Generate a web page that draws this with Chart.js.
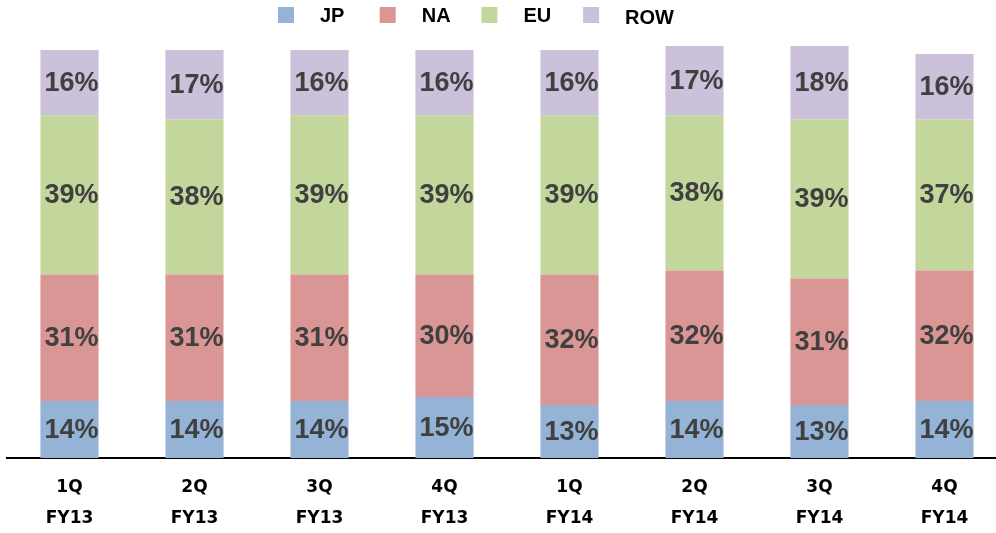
<!DOCTYPE html>
<html>
<head>
<meta charset="utf-8">
<script src="https://cdn.jsdelivr.net/npm/chart.js@4/dist/chart.umd.min.js"></script>
<style>
  html, body { margin: 0; padding: 0; background: #ffffff; overflow: hidden; }
  #wrap { width: 996px; height: 533px; overflow: hidden; }
  canvas { display: block; }
</style>
</head>
<body>
<div id="wrap"><canvas id="chart" width="1009" height="548"></canvas></div>
<script>
// Regional sales mix by quarter (percent of total)
const quarters = [['1Q', 'FY13'], ['2Q', 'FY13'], ['3Q', 'FY13'], ['4Q', 'FY13'],
                  ['1Q', 'FY14'], ['2Q', 'FY14'], ['3Q', 'FY14'], ['4Q', 'FY14']];
const regionNames = ['JP', 'NA', 'EU', 'ROW'];
const jp  = [14, 14, 14, 15, 13, 14, 13, 14];
const na  = [31, 31, 31, 30, 32, 32, 31, 32];
const eu  = [39, 38, 39, 39, 39, 38, 39, 37];
const row = [16, 17, 16, 16, 16, 17, 18, 16];

const regionColors = ['#95B3D7', '#D99694', '#C3D69B', '#CCC1DA'];
const series = [jp, na, eu, row];

// Percent labels centred in each stacked segment
const segmentLabels = {
  id: 'segmentLabels',
  afterDatasetsDraw(chart) {
    const ctx = chart.ctx;
    ctx.save();
    ctx.font = 'bold 27px "Liberation Sans", Arial, sans-serif';
    ctx.fillStyle = '#404040';
    ctx.textAlign = 'center';
    ctx.textBaseline = 'middle';
    chart.data.datasets.forEach((ds, di) => {
      const meta = chart.getDatasetMeta(di);
      meta.data.forEach((bar, i) => {
        const y = (bar.y + bar.base) / 2;
        ctx.fillText(ds.data[i] + '%', bar.x + 2, y + 1);
      });
    });
    ctx.restore();
  }
};

// Legend row across the top: colour swatch followed by the region name
const topLegend = {
  id: 'topLegend',
  afterDraw(chart) {
    const ctx = chart.ctx;
    ctx.save();
    ctx.font = 'bold 20px "Liberation Sans", Arial, sans-serif';
    ctx.textBaseline = 'middle';
    ctx.textAlign = 'left';
    chart.data.datasets.forEach((ds, i) => {
      const bx = 278 + i * 101.7;
      ctx.fillStyle = ds.backgroundColor;
      ctx.fillRect(bx, 7, 16, 16);
      ctx.fillStyle = '#000000';
      ctx.fillText(ds.label, bx + 42, i === 3 ? 18 : 16);
    });
    ctx.restore();
  }
};

new Chart(document.getElementById('chart'), {
  type: 'bar',
  data: {
    labels: quarters,
    datasets: regionNames.map((name, i) => ({
      label: name,
      data: series[i],
      backgroundColor: regionColors[i],
      borderWidth: 0,
      barPercentage: 0.465,
      categoryPercentage: 1.0,
      clip: false
    }))
  },
  options: {
    responsive: false,
    animation: false,
    layout: { padding: { top: 50, left: 7, right: 2, bottom: 0 } },
    plugins: {
      legend: { display: false },
      tooltip: { enabled: false }
    },
    scales: {
      x: {
        stacked: true,
        grid: { display: false, drawTicks: false },
        border: { display: true, color: '#000000', width: 2 },
        ticks: {
          color: '#000000',
          padding: 14,
          maxRotation: 0,
          autoSkip: false,
          font: { family: '"DejaVu Sans", Verdana, sans-serif', weight: 'bold', size: 17, lineHeight: 1.82 }
        }
      },
      y: {
        stacked: true,
        display: false,
        min: 0,
        max: 100
      }
    }
  },
  plugins: [segmentLabels, topLegend]
});
</script>
</body>
</html>
